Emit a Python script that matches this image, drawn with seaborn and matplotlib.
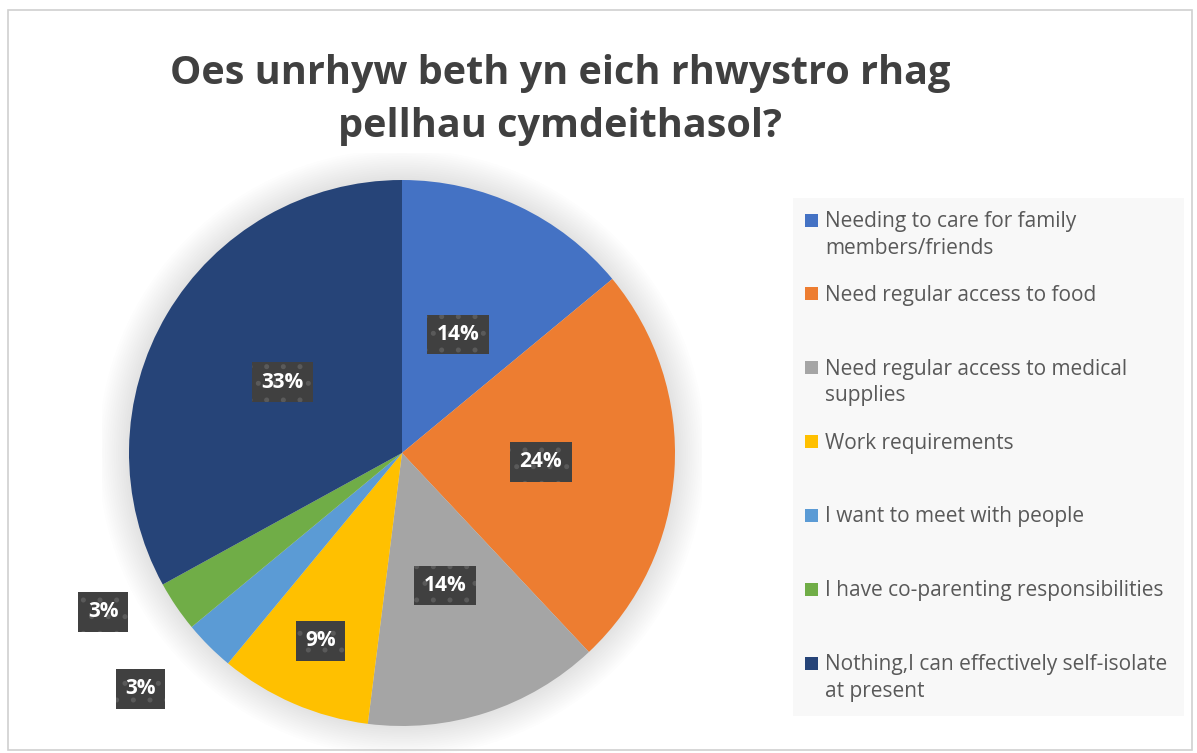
import numpy as np
import matplotlib
matplotlib.use("Agg")
import matplotlib.pyplot as plt
from matplotlib.patches import Rectangle, Circle
import seaborn as sns

# data
categories = [
    "Needing to care for family\nmembers/friends",
    "Need regular access to food",
    "Need regular access to medical\nsupplies",
    "Work requirements",
    "I want to meet with people",
    "I have co-parenting responsibilities",
    "Nothing,I can effectively self-isolate\nat present",
]
values = [14, 24, 14, 9, 3, 3, 33]
colors = ["#4472C4", "#ED7D31", "#A5A5A5", "#FFC000", "#5B9BD5", "#70AD47", "#264478"]
title = "Oes unrhyw beth yn eich rhwystro rhag\npellhau cymdeithasol?"

# label placement (radius fraction, angle nudge in degrees)
label_r = [0.48, 0.51, 0.51, 0.75, 1.29, 1.24, 0.51]
label_nudge = [0, 0, 0, 0, -3, -6.2, 0]

sns.set_theme(style="white")
plt.rcParams["font.family"] = ["Open Sans", "DejaVu Sans"]
plt.rcParams["hatch.linewidth"] = 1.2

W, H = 1197, 753
fig = plt.figure(figsize=(W / 100, H / 100), dpi=100)
fig.patch.set_facecolor("white")

# outer chart border
fig.add_artist(Rectangle((8 / W, 3 / H), (1192 - 8) / W, (743 - 3) / H,
                         transform=fig.transFigure, fill=False,
                         edgecolor="#d0d0d0", linewidth=1.2))

# pie axes: centre (402, 453) px, radius 273 px
cx, cy, R = 402, H - 453, 273
half = 1.1 * R
ax = fig.add_axes([(cx - half) / W, (cy - half) / H, 2 * half / W, 2 * half / H])

wedges, _ = ax.pie(values, colors=colors, startangle=90, counterclock=False,
                   radius=1.0, wedgeprops=dict(linewidth=0))
ax.set_xlim(-1.1, 1.1)
ax.set_ylim(-1.1, 1.1)
ax.set_aspect("equal")
ax.axis("off")

# soft shadow around the pie
for k in range(14):
    ax.add_patch(Circle((0, 0), 1.0 + 0.008 * (14 - k), color="#7f7f7f",
                        alpha=0.012, lw=0, zorder=0))

total = sum(values)
start = 90.0
for i, v in enumerate(values):
    mid = start - 360.0 * (v / 2) / total + label_nudge[i]
    start -= 360.0 * v / total
    r = label_r[i]
    x, y = r * np.cos(np.radians(mid)), r * np.sin(np.radians(mid))
    ax.text(x, y, f"{v}%", ha="center", va="center", color="white",
            fontsize=15, fontweight="bold", zorder=5, clip_on=False,
            bbox=dict(boxstyle="square,pad=0.45", facecolor="#404040",
                      edgecolor="#5a5a5a", linewidth=0, hatch="."))

# title
fig.text(560 / W, 1 - 100 / H, title, ha="center", va="center",
         fontsize=28.5, fontweight="bold", color="#404040", linespacing=1.45)

# legend panel
lx0, ly0, lx1, ly1 = 793, 198, 1184, 716
fig.add_artist(Rectangle((lx0 / W, 1 - ly1 / H), (lx1 - lx0) / W, (ly1 - ly0) / H,
                         transform=fig.transFigure, facecolor="#f8f8f8",
                         edgecolor="none", zorder=0))
step = (663 - 220) / (len(categories) - 1)
for i, (lab, col) in enumerate(zip(categories, colors)):
    yy = 220 + i * step
    fig.add_artist(Rectangle((805 / W, 1 - (yy + 6.5) / H), 13 / W, 13 / H,
                             transform=fig.transFigure, facecolor=col,
                             edgecolor="none", zorder=2))
    fig.text(825 / W, 1 - (yy - 9) / H, lab, ha="left", va="top",
             fontsize=15, color="#595959", linespacing=1.35)

fig.savefig("out.png", dpi=100)
